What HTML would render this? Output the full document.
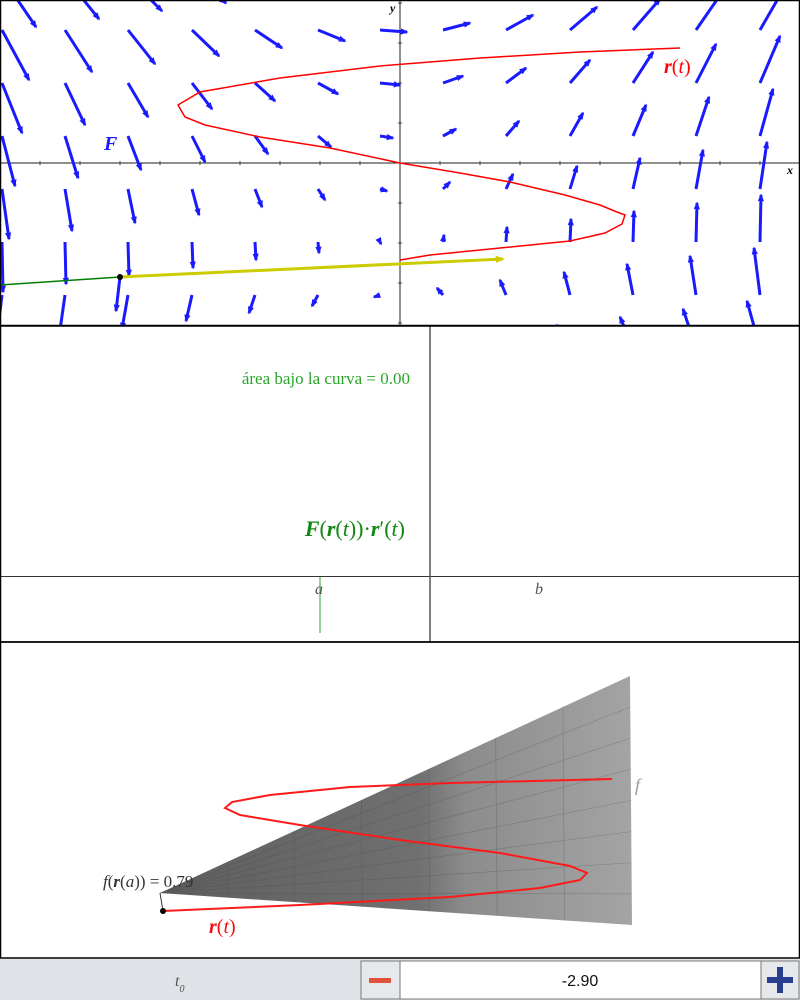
<!DOCTYPE html>
<html><head><meta charset="utf-8">
<style>
html,body{margin:0;padding:0;background:#fff;width:800px;height:1000px;overflow:hidden;font-family:"Liberation Serif",serif}
svg{position:absolute;left:0;top:0}
</style></head>
<body>
<svg id="main" width="800" height="1000" viewBox="0 0 800 1000" xmlns="http://www.w3.org/2000/svg">
<defs>
<marker id="ah" viewBox="0 0 10 10" refX="8" refY="5" markerWidth="2.6" markerHeight="2.6" orient="auto"><path d="M0,1 L10,5 L0,9 z" fill="#1a1aff"/></marker>
<marker id="ahy" viewBox="0 0 10 10" refX="8" refY="5" markerWidth="3" markerHeight="3" orient="auto"><path d="M0,1 L10,5 L0,9 z" fill="#cccc00"/></marker>
<clipPath id="topclip"><rect x="0" y="0" width="800" height="325"/></clipPath>
<linearGradient id="sgrad" x1="0" y1="0" x2="1" y2="0">
<stop offset="0" stop-color="#5e5e5e"/><stop offset="0.55" stop-color="#707070"/><stop offset="0.65" stop-color="#8c8c8c"/><stop offset="1" stop-color="#a4a4a4"/>
</linearGradient>
</defs>

<!-- TOP PANEL -->
<g id="top" clip-path="url(#topclip)">
  <line x1="0" y1="163" x2="800" y2="163" stroke="#222" stroke-width="1"/>
  <line x1="400" y1="0" x2="400" y2="325" stroke="#222" stroke-width="1"/>
  <g id="ticks"></g>
  <g id="arrows"></g>
  <polyline id="curve" fill="none" stroke="#ff0000" stroke-width="1.5"/>
  <line x1="0" y1="285" x2="120" y2="277" stroke="#008000" stroke-width="1.5"/>
  <line x1="120" y1="277" x2="503" y2="259" stroke="#cccc00" stroke-width="3" marker-end="url(#ahy)"/>
  <line x1="120" y1="277" x2="116" y2="311" stroke="#1a1aff" stroke-width="3" marker-end="url(#ah)"/>
  <circle cx="120" cy="277" r="3" fill="#000"/>
  <text x="390" y="12" font-size="12" font-style="italic" font-weight="bold">y</text>
  <text x="787" y="174" font-size="12" font-style="italic" font-weight="bold">x</text>
  <text x="104" y="150" font-size="20" font-style="italic" font-weight="bold" fill="#1a1aff">F</text>
  <text x="664" y="73" font-size="20" fill="#ff0000"><tspan font-style="italic" font-weight="bold">r</tspan>(<tspan font-style="italic">t</tspan>)</text>
</g>
<rect x="0.5" y="0.5" width="799" height="325" fill="none" stroke="#000" stroke-width="1.5"/>

<!-- MIDDLE PANEL -->
<g>
  <line x1="0" y1="576.5" x2="800" y2="576.5" stroke="#333" stroke-width="1"/>
  <line x1="430" y1="326" x2="430" y2="642" stroke="#555" stroke-width="1.5"/>
  <line x1="320" y1="577" x2="320" y2="633" stroke="#4caf50" stroke-width="1.2"/>
  <text x="410" y="384" font-size="17" fill="#2aa52a" text-anchor="end">área bajo la curva = 0.00</text>
  <text x="405" y="536" font-size="22" fill="#118811" text-anchor="end"><tspan font-weight="bold" font-style="italic">F</tspan>(<tspan font-weight="bold" font-style="italic">r</tspan>(<tspan font-style="italic">t</tspan>))·<tspan font-weight="bold" font-style="italic">r</tspan>′(<tspan font-style="italic">t</tspan>)</text>
  <text x="315" y="594" font-size="16" font-style="italic" fill="#555">a</text>
  <text x="535" y="594" font-size="16" font-style="italic" fill="#555">b</text>
</g>
<rect x="0.5" y="326" width="799" height="316" fill="none" stroke="#000" stroke-width="1.5"/>

<!-- BOTTOM PANEL -->
<g>
  <polygon points="160,893 630,676 632,925" fill="url(#sgrad)"/>
  <g id="sgrid" stroke="#444" stroke-width="0.6" opacity="0.35"></g>
  <polyline id="curve3d" fill="none" stroke="#ff1a1a" stroke-width="2"/>
  <line x1="160" y1="893" x2="163" y2="911" stroke="#333" stroke-width="1"/>
  <circle cx="163" cy="911" r="3" fill="#000"/>
  <text x="103" y="887" font-size="17" fill="#333"><tspan font-style="italic">f</tspan>(<tspan font-weight="bold" font-style="italic">r</tspan>(<tspan font-style="italic">a</tspan>)) = 0.79</text>
  <text x="209" y="933" font-size="20" fill="#ee1111"><tspan font-weight="bold" font-style="italic">r</tspan>(<tspan font-style="italic">t</tspan>)</text>
  <text x="635" y="791" font-size="18" font-style="italic" fill="#999">f</text>
</g>
<rect x="0.5" y="642" width="799" height="316" fill="none" stroke="#000" stroke-width="1.5"/>

<!-- SLIDER BAR -->
<g>
  <rect x="0" y="959" width="800" height="41" fill="#dfe3e8"/>
  <text x="175" y="986" font-size="16" font-style="italic" fill="#555">t<tspan font-size="10" dy="6">0</tspan></text>
  <rect x="361" y="961" width="39" height="38" fill="#e6e8eb" stroke="#777"/>
  <rect x="369" y="978" width="22" height="5" fill="#e0523a"/>
  <rect x="400" y="961" width="361" height="38" fill="#fff" stroke="#777"/>
  <text x="580" y="986" font-size="16" font-family="Liberation Sans, sans-serif" text-anchor="middle" fill="#111">-2.90</text>
  <rect x="761" y="961" width="38" height="38" fill="#e6e8eb" stroke="#777"/>
  <rect x="777" y="967" width="6" height="26" fill="#283f8f"/>
  <rect x="767" y="977" width="26" height="6" fill="#283f8f"/>
</g>
</svg>
<script>
// field sample grid (pixel tails) and field components
const colsPx = [2,65,128,192,255,318,380,443,506,570,633,696,760];
const rowsPx = [-23,30,83,136,189,242,295,348];
const rowFx = [34,27,20,13,7,1,-6,-13];
const colFy = [50,42,34,26,18,11,2,-7,-15,-23,-31,-39,-47];
const curveX = [680,580,480,380,280,200,178,185,205,260,330,400,460,510,565,600,617,625,622,605,570,500,430,400];
const curveY = [48,52,58,66,78,92,105,117,125,137,148,163,173,182,195,205,212,215,224,233,241,248,255,260];
const curve3dX = [163,300,450,540,580,587,570,500,400,300,240,225,232,270,350,450,612];
const curve3dY = [911,905,897,888,880,873,866,853,840,825,815,808,802,795,787,783,779];
const NS='http://www.w3.org/2000/svg';
const ox=400, oy=163, sc=40;
const ag=document.getElementById('arrows');
colsPx.forEach((cx,ci)=>{rowsPx.forEach((cy,ri)=>{
  const dx=rowFx[ri], dy=colFy[ci];
  if(Math.hypot(dx,dy)<2) return;
  const l=document.createElementNS(NS,'line');
  l.setAttribute('x1',cx);l.setAttribute('y1',cy);
  l.setAttribute('x2',cx+dx);l.setAttribute('y2',cy+dy);
  l.setAttribute('stroke','#1a1aff');l.setAttribute('stroke-width','3');
  l.setAttribute('marker-end','url(#ah)');
  
  
  ag.appendChild(l);
});});
const tg=document.getElementById('ticks');
for(let i=-10;i<=10;i++){if(!i)continue;
  const t=document.createElementNS(NS,'line');
  t.setAttribute('x1',ox+i*sc);t.setAttribute('x2',ox+i*sc);t.setAttribute('y1',oy-2);t.setAttribute('y2',oy+2);t.setAttribute('stroke','#444');
  
  
  tg.appendChild(t);
  const u=document.createElementNS(NS,'line');
  u.setAttribute('y1',oy+i*sc);u.setAttribute('y2',oy+i*sc);u.setAttribute('x1',ox-2);u.setAttribute('x2',ox+2);u.setAttribute('stroke','#444');
  
  
  tg.appendChild(u);
}
document.getElementById('curve').setAttribute('points',curveX.map((x,i)=>x+','+curveY[i]).join(' '));
document.getElementById('curve3d').setAttribute('points',curve3dX.map((x,i)=>x+','+curve3dY[i]).join(' '));
const sg=document.getElementById('sgrid');
const A=[160,893],T=[630,676],B=[632,925];
for(let k=1;k<7;k++){const s=k/7;
  const p=[A[0]+(T[0]-A[0])*s,A[1]+(T[1]-A[1])*s], q=[A[0]+(B[0]-A[0])*s,A[1]+(B[1]-A[1])*s];
  const l=document.createElementNS(NS,'line');
  l.setAttribute('x1',p[0]);l.setAttribute('y1',p[1]);l.setAttribute('x2',q[0]);l.setAttribute('y2',q[1]);
  
  
  sg.appendChild(l);
}
for(let k=1;k<8;k++){const s=k/8;
  const r=[T[0]+(B[0]-T[0])*s,T[1]+(B[1]-T[1])*s];
  const l=document.createElementNS(NS,'line');
  l.setAttribute('x1',A[0]);l.setAttribute('y1',A[1]);l.setAttribute('x2',r[0]);l.setAttribute('y2',r[1]);
  
  
  sg.appendChild(l);
}
</script>
</body></html>
